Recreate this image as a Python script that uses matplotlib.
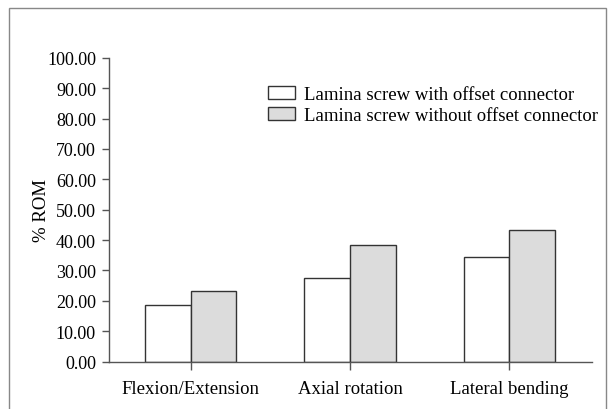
import matplotlib.pyplot as plt
import matplotlib.patches as mpatches
import numpy as np

categories = ['Flexion/Extension', 'Axial rotation', 'Lateral bending']
with_offset = [18.6, 27.6, 34.6]
without_offset = [23.3, 38.5, 43.3]
series_labels = ['Lamina screw with offset connector', 'Lamina screw without offset connector']
yticks = [0, 10, 20, 30, 40, 50, 60, 70, 80, 90, 100]

plt.rcParams['font.family'] = ['Liberation Serif', 'DejaVu Serif']

fig = plt.figure(figsize=(6.13, 4.10), dpi=100)
ax = fig.add_axes([0.177, 0.1154, 0.788, 0.7414])

x = np.arange(len(categories))
w = 0.286
ax.bar(x - w / 2, with_offset, w, color='white', edgecolor='#333333', linewidth=1.0,
       label=series_labels[0])
ax.bar(x + w / 2, without_offset, w, color='#dcdcdc', edgecolor='#333333', linewidth=1.0,
       label=series_labels[1])

ax.set_xlim(-0.515, 2.515)
ax.set_ylim(0, 100)
ax.set_xticks(x)
ax.set_xticklabels(categories, fontsize=13.5)
ax.set_yticks(yticks)
ax.set_yticklabels(['%.2f' % v for v in yticks], fontsize=13)
ax.set_ylabel('% ROM', fontsize=13.5, labelpad=-2)

for s in ['top', 'right']:
    ax.spines[s].set_visible(False)
for s in ['left', 'bottom']:
    ax.spines[s].set_color('#555555')
    ax.spines[s].set_linewidth(1.0)
ax.tick_params(axis='y', length=5, width=1, color='#555555', pad=4)
ax.tick_params(axis='x', length=5.5, width=1, color='#555555', pad=8)

ax.legend(loc='upper left', bbox_to_anchor=(0.438, 0.787), bbox_transform=fig.transFigure,
          frameon=False, fontsize=13.5, borderpad=0, borderaxespad=0,
          handlelength=1.4, handleheight=0.68, handletextpad=0.47, labelspacing=0.2)

# thin grey frame around the whole figure
fig.patches.append(mpatches.Rectangle((8.5 / 613, -0.05), 597.5 / 613, 1.05 - 9.3 / 410,
                                      transform=fig.transFigure, fill=False,
                                      edgecolor='#888888', linewidth=1.0))

fig.savefig('out.png', dpi=100)
